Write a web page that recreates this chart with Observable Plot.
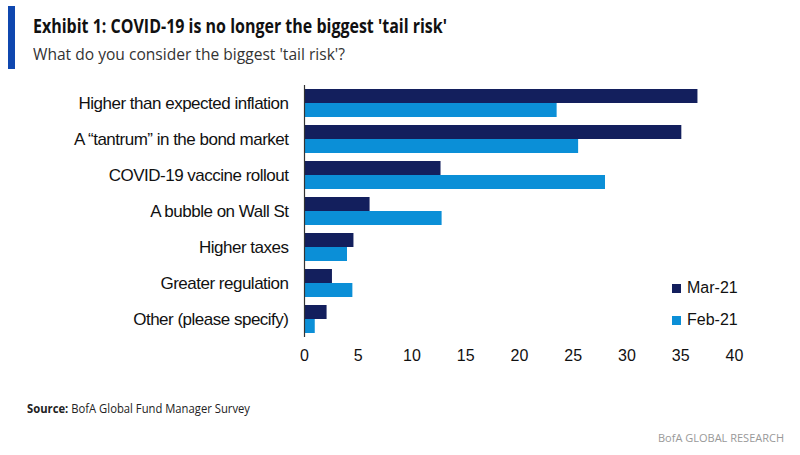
<!DOCTYPE html>
<html>
<head>
<meta charset="utf-8">
<script src="https://cdn.jsdelivr.net/npm/d3@7"></script>
<script src="https://cdn.jsdelivr.net/npm/@observablehq/plot@0.6"></script>
<style>
  html, body { margin: 0; padding: 0; background: #fff; }
  #wrap { position: relative; width: 800px; height: 455px; overflow: hidden; font-family: "Liberation Sans", Arial, sans-serif; }
  .abs { position: absolute; white-space: nowrap; transform-origin: 0 0; }
  #accent { position: absolute; left: 8px; top: 6px; width: 7px; height: 63px; background: #0f47af; }
  #title { left: 33px; top: 13px; font-family: "Open Sans", sans-serif; font-weight: 700; font-size: 19px; color: #111; }
  #subtitle { left: 33px; top: 42px; font-family: "Open Sans", sans-serif; font-weight: 400; font-size: 17px; color: #333; }
  #source { left: 27px; top: 400px; font-family: "Open Sans", sans-serif; font-size: 12.5px; color: #222; }
  #brand { left: 658px; top: 430px; font-family: "Open Sans", sans-serif; font-size: 11px; color: #999; }
  #chart { position: absolute; left: 0; top: 0; }
  .leg { position: absolute; left: 672px; font-family: "Liberation Sans", Arial, sans-serif; font-size: 16px; color: #111; display: flex; align-items: center; }
  .leg i { display: inline-block; width: 9px; height: 9px; margin-right: 6px; }
</style>
</head>
<body>
<div id="wrap">
  <div id="accent"></div>
  <div id="title" class="abs"></div>
  <div id="subtitle" class="abs"></div>
  <div id="chart"></div>
  <div id="legend"></div>
  <div id="source" class="abs"></div>
  <div id="brand" class="abs"></div>
</div>
<script>
const titleText = "Exhibit 1: COVID-19 is no longer the biggest 'tail risk'";
const subtitleText = "What do you consider the biggest 'tail risk'?";
const sourceLabel = "Source:";
const sourceText = " BofA Global Fund Manager Survey";
const brandText = "BofA GLOBAL RESEARCH";

const categories = [
  "Higher than expected inflation",
  "A \u201Ctantrum\u201D in the bond market",
  "COVID-19 vaccine rollout",
  "A bubble on Wall St",
  "Higher taxes",
  "Greater regulation",
  "Other (please specify)"
];
const series = ["Mar-21", "Feb-21"];
const mar21 = [36.6, 35.1, 12.7, 6.1, 4.6, 2.6, 2.1];
const feb21 = [23.5, 25.5, 28.0, 12.8, 4.0, 4.5, 1.0];
const xTicks = [0, 5, 10, 15, 20, 25, 30, 35, 40];
const colors = ["#131f5d", "#0b8fd7"];

const marData = categories.map((c, i) => ({category: c, series: series[0], value: mar21[i]}));
const febData = categories.map((c, i) => ({category: c, series: series[1], value: feb21[i]}));

function fit(el, target) {
  const w = el.getBoundingClientRect().width;
  if (w > 0) el.style.transform = `scaleX(${target / w})`;
}

const t = document.getElementById("title"); t.textContent = titleText;
const s = document.getElementById("subtitle"); s.textContent = subtitleText;
const src = document.getElementById("source");
src.innerHTML = `<b>${sourceLabel}</b>${sourceText}`;
document.getElementById("brand").textContent = brandText;
fit(t, 414); fit(s, 312); fit(src, 223);

const chart = Plot.plot({
  width: 800,
  height: 375,
  marginTop: 85,
  marginBottom: 38,
  marginLeft: 304,
  marginRight: 66,
  style: {fontFamily: "'Liberation Sans', Arial, sans-serif", fontSize: "16px", color: "#111", background: "transparent"},
  x: {domain: [0, 40], ticks: xTicks, tickSize: 0, tickPadding: 12, label: null},
  y: {domain: categories, paddingInner: 8/36, paddingOuter: 4/36, tickSize: 0, tickPadding: 16, label: null},
  color: {domain: series, range: colors},
  marks: [
    Plot.barX(marData, {x: "value", y: "category", fill: "series", insetBottom: 14}),
    Plot.barX(febData, {x: "value", y: "category", fill: "series", insetTop: 14}),
    Plot.ruleX([0], {stroke: "#333", strokeWidth: 1.2})
  ]
});
d3.select(chart).selectAll('g[aria-label^="y-axis"]')
  .style("font-size", "17px").style("letter-spacing", "-0.5px");
document.getElementById("chart").appendChild(chart);

const legend = document.getElementById("legend");
const legTops = [279, 311];
series.forEach((name, i) => {
  const d = document.createElement("div");
  d.className = "leg";
  d.style.top = legTops[i] + "px";
  d.innerHTML = `<i style="background:${colors[i]}"></i>${name}`;
  legend.appendChild(d);
});
</script>
</body>
</html>
